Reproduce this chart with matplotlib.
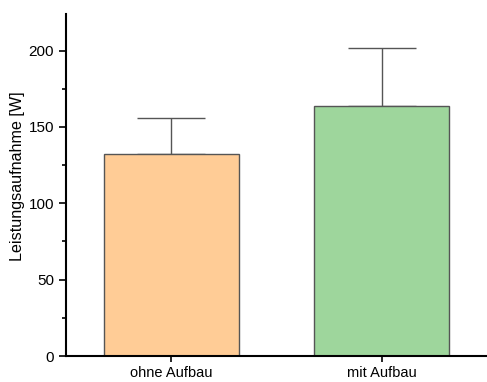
import numpy as np
import matplotlib.pyplot as plt
from matplotlib.ticker import MultipleLocator

categories = ["ohne Aufbau", "mit Aufbau"]
means = [132, 164]
errors = [24, 38]
colors = ["#FFCC96", "#9ED69C"]

plt.rcParams['font.family'] = ['Liberation Sans', 'DejaVu Sans']

fig = plt.figure(figsize=(4.87, 3.82), dpi=100)
ax = fig.add_axes([66 / 487, 26 / 382, 1 - 66 / 487, (368 - 26) / 382])

x = np.arange(1, len(categories) + 1)
ax.bar(x, means, width=0.64, color=colors, edgecolor="#555555", linewidth=1, zorder=2)
ax.errorbar(x, means, yerr=[np.zeros(len(errors)), errors], fmt="none",
            ecolor="#555555", elinewidth=1, capsize=24.5, capthick=1, zorder=1)

ax.set_xlim(0.5, 2.5)
ax.set_ylim(0, 224)
ax.set_xticks(x)
ax.set_xticklabels(categories, fontsize=10.5)
ax.yaxis.set_major_locator(MultipleLocator(50))
ax.yaxis.set_minor_locator(MultipleLocator(25))
ax.tick_params(axis="y", labelsize=11, direction="out", length=5, width=1.2)
ax.tick_params(axis="y", which="minor", length=3, width=1.2)
ax.tick_params(axis="x", direction="out", length=4, width=1.2)
ax.set_ylabel("Leistungsaufnahme [W]", fontsize=11.6)
ax.yaxis.set_label_coords(-0.097, 0.526)

for side in ["top", "right"]:
    ax.spines[side].set_visible(False)
for side in ["left", "bottom"]:
    ax.spines[side].set_linewidth(1.5)

fig.savefig("out.png", dpi=100)
